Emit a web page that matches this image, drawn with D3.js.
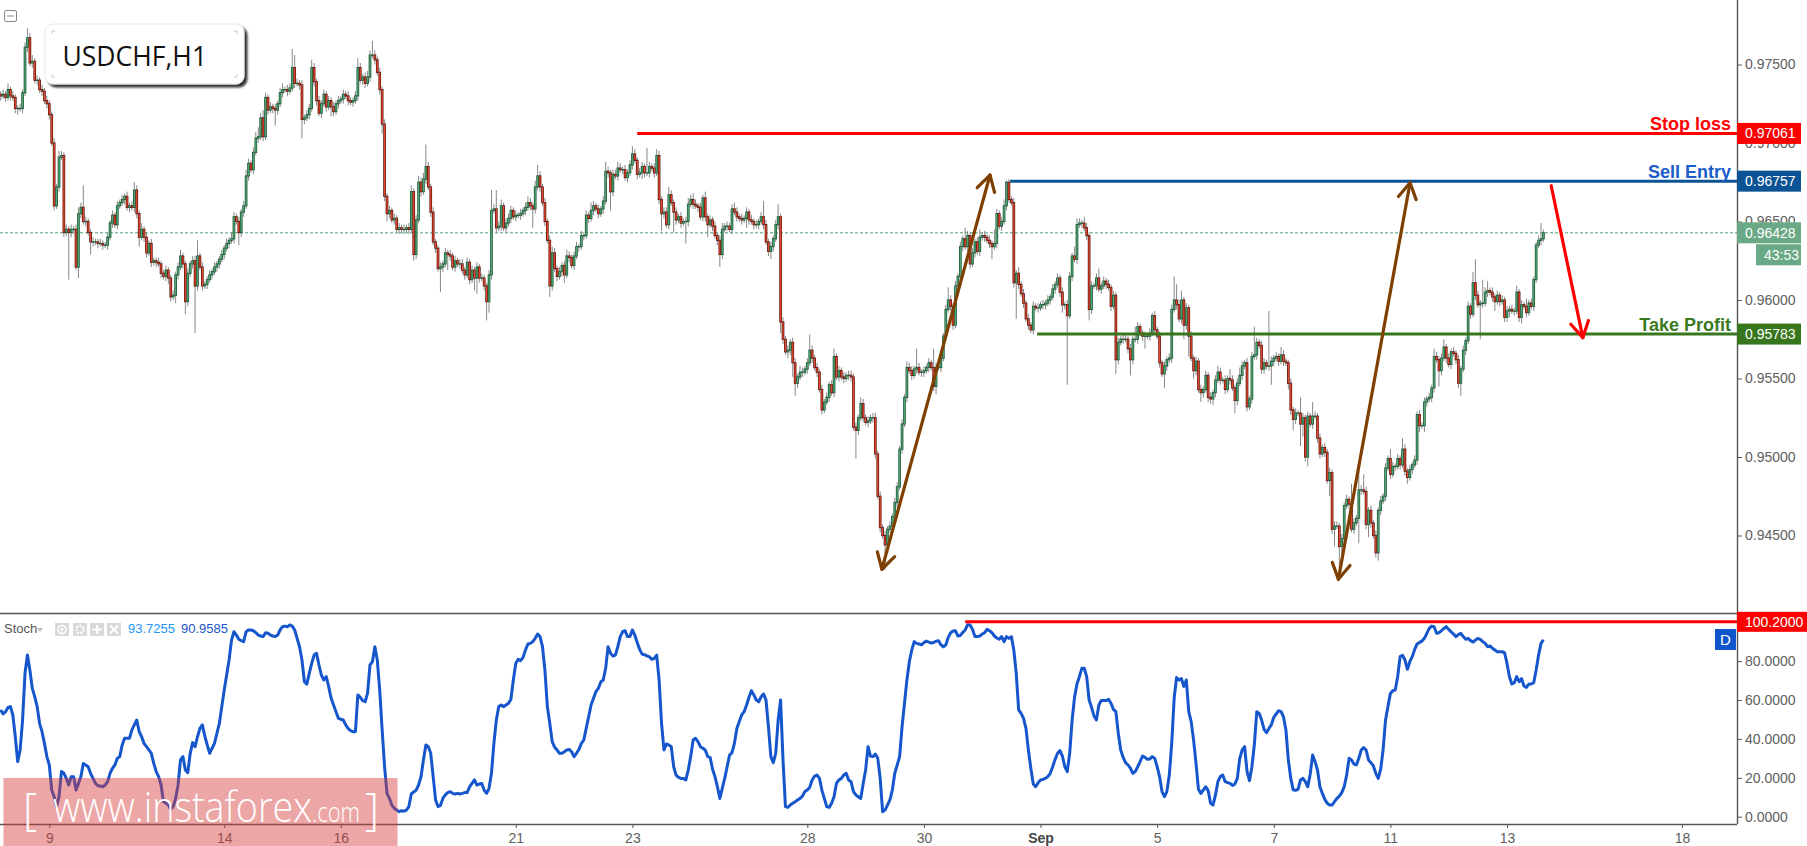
<!DOCTYPE html>
<html><head><meta charset="utf-8">
<script src="https://cdn.jsdelivr.net/npm/d3@7"></script>
<style>
html,body{margin:0;padding:0;background:#fff;overflow:hidden;}
svg{display:block;}
</style></head><body>
<svg id="chart" width="1807" height="846"></svg>
<script>
// ---------------- DATA ----------------
// USDCHF H1 bars; bar index counted in hours from Tue Aug 8 00:00 (24 bars per trading day)
const firstBar = 4;
const firstOpen = 0.9731;
const closes = [
.9730,.9731,.9729,.9734,.9730,.9729,.9722,.9722,.9722,.9732,
.9761,.9767,.9751,.9752,.9740,.9740,.9734,.9733,.9727,.9725,
.9718,.9700,.9660,.9672,.9691,.9692,.9643,.9645,.9643,.9645,
.9645,.9621,.9655,.9659,.9650,.9650,.9643,.9637,.9637,.9637,
.9636,.9636,.9635,.9635,.9640,.9649,.9654,.9648,.9660,.9662,
.9664,.9666,.9659,.9660,.9659,.9670,.9655,.9640,.9645,.9640,
.9630,.9636,.9624,.9625,.9624,.9623,.9617,.9615,.9619,.9614,
.9602,.9603,.9616,.9621,.9628,.9623,.9599,.9617,.9623,.9625,
.9609,.9628,.9621,.9609,.9610,.9613,.9616,.9618,.9621,.9623,
.9626,.9629,.9633,.9636,.9638,.9639,.9653,.9650,.9643,.9656,
.9660,.9679,.9687,.9683,.9694,.9703,.9704,.9716,.9704,.9729,
.9721,.9723,.9722,.9721,.9725,.9732,.9734,.9734,.9733,.9735,
.9748,.9738,.9738,.9737,.9715,.9716,.9718,.9722,.9748,.9739,
.9727,.9719,.9725,.9731,.9723,.9727,.9723,.9720,.9725,.9727,
.9728,.9731,.9730,.9727,.9726,.9727,.9730,.9748,.9740,.9742,
.9738,.9742,.9756,.9756,.9753,.9745,.9734,.9712,.9666,.9655,
.9657,.9651,.9652,.9645,.9646,.9645,.9645,.9646,.9645,.9669,
.9629,.9651,.9675,.9669,.9677,.9685,.9672,.9656,.9637,.9633,
.9620,.9621,.9623,.9630,.9629,.9628,.9621,.9625,.9623,.9623,
.9619,.9616,.9624,.9613,.9619,.9614,.9621,.9614,.9614,.9609,
.9599,.9616,.9657,.9658,.9646,.9647,.9660,.9646,.9649,.9652,
.9657,.9653,.9654,.9654,.9655,.9657,.9659,.9662,.9660,.9658,
.9672,.9679,.9672,.9662,.9650,.9638,.9609,.9630,.9620,.9615,
.9618,.9622,.9616,.9628,.9627,.9622,.9628,.9634,.9634,.9641,
.9641,.9654,.9652,.9657,.9660,.9658,.9655,.9658,.9663,.9682,
.9681,.9669,.9680,.9679,.9684,.9683,.9683,.9678,.9681,.9686,
.9693,.9689,.9680,.9681,.9685,.9681,.9681,.9685,.9684,.9681,
.9692,.9664,.9655,.9656,.9648,.9667,.9662,.9656,.9651,.9653,
.9649,.9650,.9650,.9661,.9664,.9661,.9660,.9659,.9653,.9665,
.9653,.9648,.9651,.9647,.9641,.9638,.9629,.9645,.9647,.9647,
.9645,.9658,.9656,.9653,.9652,.9651,.9652,.9656,.9651,.9650,
.9648,.9648,.9650,.9653,.9648,.9637,.9631,.9634,.9639,.9648,
.9653,.9586,.9575,.9567,.9568,.9573,.9560,.9547,.9551,.9554,
.9554,.9556,.9560,.9568,.9563,.9557,.9554,.9543,.9530,.9535,
.9538,.9546,.9541,.9564,.9551,.9555,.9551,.9550,.9552,.9552,
.9551,.9519,.9517,.9525,.9534,.9525,.9522,.9523,.9525,.9525,
.9502,.9475,.9455,.9450,.9444,.9454,.9456,.9462,.9471,.9481,
.9505,.9521,.9538,.9557,.9555,.9552,.9556,.9557,.9554,.9554,
.9555,.9557,.9560,.9557,.9545,.9557,.9557,.9563,.9577,.9594,
.9600,.9596,.9584,.9609,.9615,.9634,.9639,.9634,.9641,.9623,
.9630,.9637,.9631,.9640,.9641,.9640,.9638,.9636,.9634,.9636,
.9655,.9647,.9650,.9660,.9675,.9664,.9662,.9611,.9617,.9610,
.9604,.9598,.9588,.9584,.9581,.9596,.9595,.9595,.9597,.9597,
.9598,.9600,.9602,.9607,.9610,.9614,.9605,.9597,.9597,.9590,
.9615,.9628,.9626,.9648,.9649,.9649,.9646,.9641,.9594,.9609,
.9609,.9614,.9607,.9609,.9612,.9610,.9608,.9596,.9603,.9562,
.9573,.9575,.9575,.9575,.9569,.9562,.9575,.9575,.9583,.9579,
.9577,.9577,.9577,.9579,.9590,.9581,.9577,.9560,.9553,.9558,
.9562,.9563,.9594,.9600,.9597,.9588,.9600,.9584,.9595,.9577,
.9563,.9555,.9561,.9543,.9541,.9543,.9552,.9538,.9537,.9541,
.9549,.9554,.9549,.9549,.9543,.9550,.9549,.9544,.9536,.9547,
.9552,.9558,.9560,.9532,.9537,.9564,.9565,.9573,.9571,.9556,
.9560,.9558,.9558,.9561,.9563,.9564,.9561,.9565,.9561,.9560,
.9547,.9530,.9524,.9528,.9528,.9521,.9525,.9500,.9526,.9521,
.9526,.9526,.9512,.9502,.9506,.9503,.9485,.9490,.9454,.9456,
.9456,.9443,.9448,.9469,.9473,.9470,.9454,.9458,.9461,.9479,
.9479,.9478,.9457,.9466,.9458,.9450,.9439,.9466,.9472,.9475,
.9493,.9499,.9489,.9494,.9494,.9499,.9495,.9505,.9491,.9487,
.9492,.9495,.9498,.9527,.9520,.9520,.9535,.9537,.9538,.9544,
.9564,.9562,.9555,.9563,.9570,.9563,.9559,.9567,.9566,.9562,
.9547,.9556,.9568,.9574,.9596,.9591,.9611,.9603,.9597,.9598,
.9598,.9605,.9606,.9605,.9602,.9599,.9603,.9599,.9600,.9589,
.9593,.9594,.9593,.9593,.9605,.9589,.9597,.9596,.9592,.9598,
.9596,.9613,.9635,.9638,.9639,.96428];
// upper / lower shadow lengths, in pips (0.0001)
const wickUp = [
2,3,2,4,2,3,2,2,3,2, 3,6,3,4,2,3,2,3,2,3, 2,2,3,2,4,3,2,3,2,3, 2,3,4,3,14,3,2,2,3,2,
2,3,2,2,3,2,3,2,3,2, 3,2,3,2,3,5,3,2,4,2, 3,2,3,2,2,3,2,2,3,2, 2,3,2,3,4,2,2,3,2,3,
3,10,2,3,2,2,3,2,3,2, 2,3,2,3,2,4,3,2,3,2, 3,4,3,2,3,4,6,3,5,3, 2,3,2,3,2,3,4,2,3,3,
12,8,3,2,3,2,3,3,5,3, 2,3,2,3,2,3,2,3,2,3, 2,3,2,3,2,2,3,6,3,2, 3,4,3,9,3,2,3,2,3,2,
3,2,3,2,3,2,3,2,3,4, 2,3,4,3,4,14,3,2,3,2, 2,3,2,3,2,3,2,3,2,3, 3,2,3,2,3,2,3,2,3,2,
2,3,13,3,12,3,4,2,3,3, 3,2,3,2,3,2,3,4,3,2, 4,7,3,2,3,2,3,4,3,2, 3,2,3,4,3,2,3,3,2,3,
2,3,2,5,3,2,3,2,3,6, 3,2,3,3,4,3,2,3,2,3, 5,3,2,3,3,2,16,3,2,3, 4,3,2,3,3,5,3,2,3,2,
3,2,3,4,3,4,3,2,3,2, 4,2,3,2,3,2,3,4,2,3, 2,3,4,3,2,3,2,3,2,3, 2,3,2,3,10,3,2,3,2,3,
8,2,3,2,3,2,3,3,2,4, 3,2,3,10,3,2,3,2,3,2, 3,2,3,5,2,3,2,3,2,3, 3,2,3,2,4,3,2,3,2,3,
3,2,3,2,3,2,3,2,3,3, 2,3,2,4,3,3,2,12,3,2, 3,2,3,2,12,3,2,3,2,3, 8,3,2,3,2,3,2,7,3,2,
3,2,3,5,2,3,2,3,2,9, 3,2,3,4,1,2,2,3,2,4, 2,3,2,3,2,3,2,3,2,3, 2,3,2,3,2,3,2,3,2,3,
3,2,6,4,3,2,4,3,2,3, 2,3,6,2,3,2,3,2,3,2, 3,2,4,3,2,3,2,8,3,2, 2,3,2,3,2,3,2,3,2,3,
2,3,3,15,10,3,6,2,3,2, 3,2,3,2,3,2,3,2,3,2, 3,4,3,2,3,2,6,3,2,3, 5,3,2,3,2,3,18,3,2,3,
3,2,35,3,2,3,2,5,3,2, 2,3,2,3,2,10,3,2,3,2, 9,3,2,3,2,3,2,3,2,3, 3,2,3,2,3,2,13,3,2,12,
3,10,3,2,3,2,3,2,3,2, 3,2,6,3,2,3,2,7,3,2, 3,2,3,2,3,2,3,2,3,2, 5,3,2,3,5,2,3,2,3,2,
3,2,3,2,3,2,7,15,3,2, 15,3,6,2,3,2,3,2,3,2, 3,2,3,2,4,2,3,2,5,2, 3,2,2,3,10,2];
const wickDn = [
3,2,3,2,3,2,3,4,2,3, 2,3,2,3,2,3,2,3,2,3, 3,2,3,2,3,2,3,2,30,3, 3,2,7,3,2,3,2,8,3,2,
3,2,3,2,3,2,3,2,3,2, 2,3,2,3,2,3,3,6,2,3, 3,2,3,2,3,2,3,2,3,4, 3,2,5,3,2,3,8,3,2,3,
30,3,2,3,2,3,2,3,2,3, 3,2,3,2,3,2,3,2,8,3, 3,2,3,2,3,2,3,2,3,2, 3,2,3,10,3,2,3,2,3,2,
2,3,2,3,12,3,2,3,2,3, 3,2,3,2,3,2,6,3,2,3, 2,3,2,3,2,3,2,3,2,3, 3,2,3,2,3,2,3,6,3,5,
3,2,3,2,3,2,3,2,3,2, 4,3,2,3,2,3,2,3,2,3, 2,15,3,2,10,3,2,3,2,3, 2,3,2,3,2,8,10,3,2,3,
12,7,3,2,3,2,3,2,3,2, 3,2,3,2,3,2,3,2,3,12, 3,2,3,2,3,2,7,3,2,3, 2,3,5,2,3,2,3,2,3,2,
3,2,3,2,3,2,3,2,3,2, 3,12,3,2,3,2,3,2,3,2, 3,2,3,2,4,3,2,3,2,3, 2,3,11,3,2,3,2,13,3,2,
3,2,14,3,2,3,2,3,2,3, 3,8,2,3,2,3,8,3,2,3, 2,3,2,3,2,3,2,6,3,2, 3,2,3,2,3,2,3,5,3,2,
3,7,3,2,4,3,9,8,3,2, 3,2,3,2,3,2,3,2,3,2, 2,3,2,3,2,3,2,3,2,3, 3,2,18,3,2,3,2,3,2,3,
3,2,3,2,16,3,2,3,2,3, 2,3,2,3,2,3,2,3,2,3, 3,2,3,2,3,5,2,3,2,3, 2,3,3,2,3,2,3,2,3,3,
2,3,2,3,2,3,2,3,8,2, 3,2,3,2,3,2,2,3,23,3, 2,3,2,3,2,3,2,3,2,3, 3,2,3,2,3,2,3,5,3,44,
2,3,2,3,2,3,2,3,7,3, 2,3,2,3,2,3,2,3,2,9, 3,2,3,2,3,10,3,2,3,2, 3,8,2,3,2,3,2,3,2,9,
3,2,3,2,3,2,3,9,3,13, 2,5,3,2,6,3,2,3,3,4, 3,2,3,2,3,2,3,2,8,3, 2,3,2,3,2,3,2,3,2,3,
3,2,3,12,3,2,3,2,3,2, 4,3,7,3,2,14,8,3,6,2, 3,2,3,3,2,3,2,10,3,11, 2,17,12,3,2,3,2,3,2,16,
3,2,3,8,3,2,3,5,3,2, 3,2,3,2,3,2,3,2,3,4, 2,3,2,3,4,2,4,3,2,3, 3,2,10,3,2,3,2,3,2,3,
3,8,2,3,2,3,2,3,2,22, 3,2,3,2,3,6,2,3,2,3, 3,4,2,3,2,3,4,2,3,2, 2,3,2,2,3,2];
// Stochastic (%D) per bar
const stoch = [
54.9,52.8,54.0,56.2,56.6,52.3,41.1,28.3,34.3,49.7, 73.7,83.1,75.4,66.0,61.7,56.6,48.0,43.7,37.7,30.9,
26.6,13.7,10.3,5.2,10.3,23.2,22.3,19.7,16.3,20.6, 20.6,13.7,17.1,20.6,27.4,26.6,25.7,22.3,19.7,17.1,
15.9,15.8,15.4,16.3,18.0,22.3,24.9,26.6,30.0,30.9, 36.9,40.3,40.3,40.3,44.6,47.2,49.7,43.7,41.1,37.7,
36.0,34.3,32.6,27.4,23.2,20.6,16.3,7.7,6.9,6.0, 3.8,5.2,9.4,16.3,29.2,30.9,24.0,22.6,32.6,38.1,
36.0,41.1,45.4,47.2,41.5,36.9,32.6,35.2,37.7,42.9, 48.0,56.6,65.1,72.8,80.6,90.8,95.1,93.4,91.2,90.5,
90.0,95.1,96.0,96.0,95.6,94.6,93.4,92.9,92.6,94.6, 94.3,93.4,92.9,92.6,93.4,96.0,97.7,98.0,97.7,98.6,
98.0,96.0,91.7,87.4,80.6,69.4,68.2,73.7,78.8,83.1, 84.0,78.0,72.8,70.3,72.0,66.9,60.9,57.4,54.0,50.6,
50.1,49.7,47.2,45.4,44.2,43.7,43.7,62.6,61.4,59.7, 59.1,63.4,78.0,79.7,87.4,80.6,65.1,44.6,25.7,12.0,
9.4,6.0,4.3,3.4,2.6,3.1,2.8,3.4,5.2,11.7, 12.7,13.7,16.3,20.6,29.2,36.9,36.0,32.6,20.6,8.6,
5.2,5.8,9.4,11.2,12.4,12.9,12.0,11.7,12.0,11.7, 12.0,12.4,12.4,15.4,17.1,18.9,16.3,16.8,17.1,13.7,
12.0,14.6,22.3,37.7,49.7,56.6,57.4,56.6,57.4,58.3, 60.3,70.3,78.8,80.9,80.2,81.9,85.7,88.8,89.1,90.0,
91.7,93.9,92.6,87.4,75.4,56.6,48.0,38.6,35.7,34.3, 32.6,32.6,33.4,34.3,34.6,33.4,30.9,32.6,34.6,37.7,
39.4,45.4,51.4,57.4,60.9,64.3,66.0,69.3,70.3,76.3, 87.4,84.0,82.6,83.1,87.4,92.6,95.1,95.6,92.6,92.6,
96.0,93.4,89.5,86.0,83.6,83.3,82.6,82.3,80.9,81.4, 83.1,70.3,48.0,34.3,37.4,36.9,36.0,25.7,21.4,20.2,
19.7,19.7,18.9,24.0,30.9,39.4,40.3,38.6,36.0,35.2, 34.3,30.9,30.5,24.4,20.6,15.4,9.4,14.6,19.7,25.7,
31.7,32.9,37.7,45.4,48.9,52.3,54.0,57.4,61.4,64.8, 62.6,60.0,59.1,61.7,63.1,60.0,46.3,30.9,27.8,32.6,
49.7,60.0,29.2,5.2,4.8,6.0,6.9,7.7,8.6,9.4, 10.6,12.9,13.7,15.1,18.9,20.9,21.4,19.7,13.7,9.4,
5.2,4.8,6.9,10.3,17.1,18.9,19.7,21.4,22.3,18.9, 18.0,12.9,11.2,10.3,9.4,17.1,24.0,36.0,31.2,30.9,
32.2,30.0,19.7,2.6,3.4,6.0,8.6,13.7,22.3,26.6, 30.9,46.3,58.3,70.3,79.7,85.7,90.0,89.1,88.8,88.4,
89.5,90.3,89.8,89.3,89.6,90.2,90.5,88.4,87.4,88.3, 92.2,94.6,95.5,95.6,92.9,93.2,94.8,96.0,98.7,98.6,
96.3,92.6,92.7,92.9,93.9,94.6,96.3,95.6,94.6,92.9, 91.9,91.2,92.6,90.0,92.6,91.7,92.6,85.7,73.7,54.9,
53.1,50.6,45.4,34.3,24.9,16.8,15.4,17.5,18.9,19.2, 19.7,20.6,22.3,25.7,29.5,32.6,34.0,31.2,25.7,23.2,
32.6,49.7,61.4,68.2,72.0,76.3,76.3,72.0,60.0,56.2, 51.8,49.7,57.4,59.7,59.7,59.7,60.3,58.3,55.2,54.0,
42.9,34.3,30.5,27.8,26.6,24.9,22.3,23.2,25.7,28.3, 31.2,30.5,29.5,29.7,30.9,30.0,25.7,20.6,12.9,10.3,
12.9,21.4,37.7,60.9,71.6,70.3,71.0,66.9,70.3,54.0, 48.9,39.4,27.4,14.1,12.0,13.7,15.4,13.4,6.9,6.0,
11.2,18.0,20.6,21.4,18.0,17.5,17.1,16.1,16.8,19.7, 30.0,34.3,36.0,23.2,18.5,25.7,36.9,54.0,53.1,49.7,
44.9,43.2,45.4,47.2,51.1,52.8,54.5,54.0,51.4,44.6, 29.2,19.7,13.7,13.6,14.1,18.9,19.7,18.0,15.4,22.0,
31.7,28.3,24.0,15.4,12.0,8.9,6.9,6.0,6.0,7.7, 9.4,10.6,12.4,15.4,21.4,30.0,29.2,27.1,26.6,30.0,
34.3,35.5,34.3,29.2,27.8,26.1,22.3,19.7,24.4,34.3, 49.7,56.6,63.4,64.8,65.1,72.0,82.3,83.0,80.6,75.8,
79.7,82.3,86.0,88.8,89.6,90.3,91.7,94.3,96.8,98.0, 97.7,94.3,94.6,95.6,96.8,97.7,96.3,95.0,93.9,92.6,
93.6,94.3,92.6,91.2,91.7,90.5,89.8,90.8,91.7,91.2, 90.0,89.1,87.4,87.8,86.6,85.7,84.8,84.8,84.8,84.3,
78.8,72.0,68.2,68.9,72.0,69.4,71.0,67.2,66.5,68.2, 68.2,68.9,75.4,83.1,89.1,90.96];
const stochKValue = "93.7255";
const stochDValue = "90.9585";
// time axis: trading-day number (Aug 8 = 0) and label
const dayIndex = [1,4,6,9,11,14,16,18,20,22,24,26,29];
const dayLabels = ["9","14","16","21","23","28","30","Sep","5","7","11","13","18"];
const priceTicks = [0.945,0.950,0.955,0.960,0.965,0.970,0.975];
const stochTicks = [0,20,40,60,80,100];
// trade levels
const stopLoss = 0.97061, sellEntry = 0.96757, takeProfit = 0.95783, lastPrice = 0.96428;
const stochLevel = 100.2;
const countdown = "43:53";
// annotation anchors [bar, price]
const stopStart = 266, entryStart = 419.5, takeStart = 430.6, stochLevelStart = 401;
const brownArrows = [[366.7,0.94285,411.2,0.96796],[554.6,0.94221,584.1,0.96747]];
const redArrow = [642.2,0.96728,655.2,0.95760];

// ---------------- LAYOUT ----------------
const axisX = 1737, priceBottom = 613, stochBottom = 824;
const FONT = "'Liberation Sans', Arial, sans-serif";
const svg = d3.select("#chart");
const x = d3.scaleLinear().domain([24, 624]).range([49.3, 1507]);
const y = d3.scaleLinear().domain([0.945, 0.975]).range([535.5, 64.5]);
const yS = d3.scaleLinear().domain([0, 100]).range([816.7, 622.2]);

const n = Math.min(closes.length, wickUp.length, wickDn.length);
if (closes.length!==wickUp.length || closes.length!==wickDn.length || closes.length!==stoch.length)
  console.error("length mismatch", closes.length, wickUp.length, wickDn.length, stoch.length);
const bars = d3.range(n).map(i => {
  const o = i === 0 ? firstOpen : closes[i-1], c = closes[i];
  return {b: i + firstBar, o, c,
    hi: Math.max(o,c) + wickUp[i]*1e-4, lo: Math.min(o,c) - wickDn[i]*1e-4};
});

const defs = svg.append("defs");
defs.append("clipPath").attr("id","cp").append("rect")
  .attr("x",0).attr("y",0).attr("width",axisX).attr("height",priceBottom);
defs.append("clipPath").attr("id","cs").append("rect")
  .attr("x",0).attr("y",priceBottom+1).attr("width",axisX).attr("height",stochBottom-priceBottom-1);
const flt = defs.append("filter").attr("id","sh").attr("x","-10%").attr("y","-20%").attr("width","130%").attr("height","160%");
flt.append("feDropShadow").attr("dx",3).attr("dy",3).attr("stdDeviation",1.2)
  .attr("flood-color","#000").attr("flood-opacity",0.8);

// ---------------- PRICE PANEL ----------------
const gp = svg.append("g").attr("clip-path","url(#cp)");
// last price dotted line
gp.append("line").attr("x1",0).attr("x2",axisX).attr("y1",y(lastPrice)).attr("y2",y(lastPrice))
  .attr("stroke","#4f9e72").attr("stroke-width",1).attr("stroke-dasharray","3,2");
// wicks
gp.append("g").selectAll("line").data(bars).join("line")
  .attr("x1",d=>x(d.b)).attr("x2",d=>x(d.b))
  .attr("y1",d=>y(d.hi)).attr("y2",d=>y(d.lo))
  .attr("stroke","#7b7b7b").attr("stroke-width",0.9);
// bodies (outline)
const up = d => d.c >= d.o;
gp.append("g").selectAll("rect").data(bars).join("rect")
  .attr("x",d=>x(d.b)-1.35).attr("width",2.7)
  .attr("y",d=>y(Math.max(d.o,d.c))-0.6)
  .attr("height",d=>Math.max(1.4, Math.abs(y(d.o)-y(d.c))+1.2))
  .attr("fill",d=>up(d) ? "#1f5a36" : "#5e1a10");
// bodies (fill)
gp.append("g").selectAll("rect").data(bars.filter(d=>Math.abs(y(d.o)-y(d.c))>1.2)).join("rect")
  .attr("x",d=>x(d.b)-0.6).attr("width",1.2)
  .attr("y",d=>y(Math.max(d.o,d.c))+0.2)
  .attr("height",d=>Math.abs(y(d.o)-y(d.c))-0.4)
  .attr("fill",d=>up(d) ? "#4fa677" : "#e9462f");

// level lines
const lvl = (b0, p, col) => gp.append("line").attr("x1",x(b0)).attr("x2",axisX)
  .attr("y1",y(p)).attr("y2",y(p)).attr("stroke",col).attr("stroke-width",3);
lvl(stopStart, stopLoss, "#ff0000");
lvl(entryStart, sellEntry, "#0b5394");
lvl(takeStart, takeProfit, "#38761d");

// arrows
function arrow(g, a, col, both){
  const x1=x(a[0]), y1=y(a[1]), x2=x(a[2]), y2=y(a[3]);
  const s = g.append("g").attr("stroke",col).attr("stroke-width",3.2).attr("stroke-linecap","round").attr("fill","none");
  s.append("line").attr("x1",x1).attr("y1",y1).attr("x2",x2).attr("y2",y2);
  const head = (tx,ty,fx,fy) => {
    const ang = Math.atan2(ty-fy, tx-fx), L = 18, sp = Math.PI/6;
    const pts = [[tx-L*Math.cos(ang-sp), ty-L*Math.sin(ang-sp)],[tx,ty],[tx-L*Math.cos(ang+sp), ty-L*Math.sin(ang+sp)]];
    s.append("path").attr("d", d3.line()(pts)).attr("stroke-linejoin","round");
  };
  head(x2,y2,x1,y1);
  if (both) head(x1,y1,x2,y2);
}
brownArrows.forEach(a => arrow(gp, a, "#7f3f00", true));
arrow(gp, redArrow, "#ff0000", false);

// level texts
const lt = (txt, p, col) => svg.append("text").attr("x",axisX-6).attr("y",y(p)-3.5)
  .attr("text-anchor","end").attr("font-family",FONT).attr("font-weight","bold")
  .attr("font-size",18).attr("fill",col).text(txt);
lt("Stop loss", stopLoss, "#ff0000");
lt("Sell Entry", sellEntry, "#1c5dc9");
lt("Take Profit", takeProfit, "#3a7a1e");

// ---------------- STOCH PANEL ----------------
const gs = svg.append("g").attr("clip-path","url(#cs)");
gs.append("path").datum(stoch.slice(0,n))
  .attr("d", d3.line().x((d,i)=>x(i+firstBar)).y(d=>yS(d)))
  .attr("fill","none").attr("stroke","#1656cc").attr("stroke-width",3)
  .attr("stroke-linejoin","round");
gs.append("line").attr("x1",x(stochLevelStart)).attr("x2",axisX)
  .attr("y1",yS(stochLevel)).attr("y2",yS(stochLevel))
  .attr("stroke","#ff0000").attr("stroke-width",3);

// ---------------- AXES ----------------
const axisCol = "#555";
svg.append("line").attr("x1",axisX+0.5).attr("x2",axisX+0.5).attr("y1",0).attr("y2",stochBottom)
  .attr("stroke",axisCol).attr("stroke-width",1.4);
svg.append("line").attr("x1",0).attr("x2",axisX).attr("y1",priceBottom+0.5).attr("y2",priceBottom+0.5)
  .attr("stroke",axisCol).attr("stroke-width",1.5);
svg.append("line").attr("x1",0).attr("x2",axisX).attr("y1",stochBottom+0.5).attr("y2",stochBottom+0.5)
  .attr("stroke",axisCol).attr("stroke-width",1.5);

const styleAxis = g => {
  g.select(".domain").remove();
  g.selectAll(".tick line").attr("stroke",axisCol);
  g.selectAll(".tick text").attr("fill","#606060").attr("font-size",14).attr("font-family",FONT);
};
svg.append("g").attr("transform",`translate(${axisX},0)`)
  .call(d3.axisRight(y).tickValues(priceTicks).tickFormat(d3.format(".5f")).tickSize(5).tickPadding(3))
  .call(styleAxis);
svg.append("g").attr("transform",`translate(${axisX},0)`)
  .call(d3.axisRight(yS).tickValues(stochTicks).tickFormat(d3.format(".4f")).tickSize(5).tickPadding(3))
  .call(styleAxis);
const xa = svg.append("g").attr("transform",`translate(0,${stochBottom})`)
  .call(d3.axisBottom(x).tickValues(dayIndex.map(d=>d*24)).tickFormat((d,i)=>dayLabels[i]).tickSize(4).tickPadding(5))
  .call(styleAxis);
xa.selectAll(".tick text").filter(d=>d===dayIndex[dayLabels.indexOf("Sep")]*24)
  .attr("font-weight","bold").attr("fill","#444");

// price labels on axis
function tag(yc, txt, col, x0, w, h){
  svg.append("rect").attr("x",x0).attr("y",yc-h/2).attr("width",w).attr("height",h).attr("fill",col);
  svg.append("text").attr("x",x0+8).attr("y",yc).attr("dy","0.36em").attr("fill","#fff")
    .attr("font-family",FONT).attr("font-size",14).text(txt);
}
tag(y(stopLoss), d3.format(".5f")(stopLoss), "#ff0000", axisX, 64, 21);
tag(y(sellEntry), d3.format(".5f")(sellEntry), "#0b5394", axisX, 64, 21);
tag(y(lastPrice), d3.format(".5f")(lastPrice), "#6aa985", axisX, 64, 21);
tag(y(lastPrice)+22, countdown, "#6aa985", axisX+19, 45, 21);
tag(y(takeProfit), d3.format(".5f")(takeProfit), "#38761d", axisX, 64, 21);
tag(yS(stochLevel), d3.format(".4f")(stochLevel), "#ff0000", axisX, 70, 20);
// D badge
svg.append("rect").attr("x",1715).attr("y",629).attr("width",21).attr("height",21).attr("fill","#1155cc");
svg.append("text").attr("x",1725.5).attr("y",639.5).attr("dy","0.36em").attr("text-anchor","middle")
  .attr("fill","#fff").attr("font-family",FONT).attr("font-size",15).text("D");

// ---------------- STOCH HEADER ----------------
const hd = svg.append("g").attr("font-family",FONT).attr("font-size",13);
hd.append("text").attr("x",4).attr("y",633).attr("fill","#555").text("Stoch");
hd.append("path").attr("d","M37,628 L43,628 L40,632 Z").attr("fill","#bbb");
const icons = [55,73,90,107];
icons.forEach((ix,k)=>{
  hd.append("rect").attr("x",ix).attr("y",623).attr("width",14).attr("height",13).attr("fill","#d9d9d9");
  const cx = ix+7, cy = 629.5;
  if (k===0){ hd.append("circle").attr("cx",cx).attr("cy",cy).attr("r",4).attr("fill","none").attr("stroke","#fff").attr("stroke-width",1.6);
              hd.append("circle").attr("cx",cx).attr("cy",cy).attr("r",1.5).attr("fill","#fff"); }
  if (k===1){ hd.append("circle").attr("cx",cx).attr("cy",cy).attr("r",3.6).attr("fill","none").attr("stroke","#fff").attr("stroke-width",2.4).attr("stroke-dasharray","2,1.2"); }
  if (k===2){ hd.append("path").attr("d",`M${cx-4.5},${cy}H${cx+4.5}M${cx},${cy-4.5}V${cy+4.5}`).attr("stroke","#fff").attr("stroke-width",2); }
  if (k===3){ hd.append("path").attr("d",`M${cx-4},${cy-4}L${cx+4},${cy+4}M${cx+4},${cy-4}L${cx-4},${cy+4}`).attr("stroke","#fff").attr("stroke-width",1.8); }
});
hd.append("text").attr("x",128).attr("y",633).attr("fill","#2196f3").text(stochKValue);
hd.append("text").attr("x",181).attr("y",633).attr("fill","#1a56c8").text(stochDValue);

// ---------------- TITLE BOX ----------------
svg.append("rect").attr("x",4.5).attr("y",10.5).attr("width",12).attr("height",11).attr("rx",1.5)
  .attr("fill","#fff").attr("stroke","#888").attr("stroke-width",1);
svg.append("line").attr("x1",7).attr("x2",14).attr("y1",16).attr("y2",16).attr("stroke","#888").attr("stroke-width",1);
svg.append("rect").attr("x",45).attr("y",24).attr("width",199).attr("height",60).attr("rx",8)
  .attr("fill","#fff").attr("stroke","#e6e6e6").attr("filter","url(#sh)");
[[52,31,1,1],[237,31,-1,1],[52,77,1,-1],[237,77,-1,-1]].forEach(([cx,cy,sx,sy])=>{
  svg.append("path").attr("d",`M${cx},${cy+3*sy} L${cx},${cy} L${cx+3*sx},${cy}`)
    .attr("fill","none").attr("stroke","#bbb").attr("stroke-width",0.8);
});
svg.append("text").attr("x",62.5).attr("y",65.5).attr("font-family","'Open Sans', sans-serif")
  .attr("font-size",26.5).attr("fill","#111").text("USDCHF,H1");

// ---------------- WATERMARK ----------------
const wm = svg.append("g");
wm.append("rect").attr("x",3.5).attr("y",778).attr("width",394).attr("height",68).attr("fill","rgba(214,58,58,0.45)");
const wt = wm.append("g").attr("fill","#fff").attr("font-family","'Open Sans', sans-serif").attr("font-weight",300);
wt.append("text").attr("x",23).attr("y",825).attr("font-size",44).text("[");
wt.append("text").attr("x",53).attr("y",822).attr("font-size",42)
  .attr("textLength",259).attr("lengthAdjust","spacingAndGlyphs").text("www.instaforex");
wt.append("text").attr("x",312).attr("y",822).attr("font-size",27)
  .attr("textLength",48).attr("lengthAdjust","spacingAndGlyphs").text(".com");
wt.append("text").attr("x",365).attr("y",825).attr("font-size",44).text("]");
</script>
</body></html>
